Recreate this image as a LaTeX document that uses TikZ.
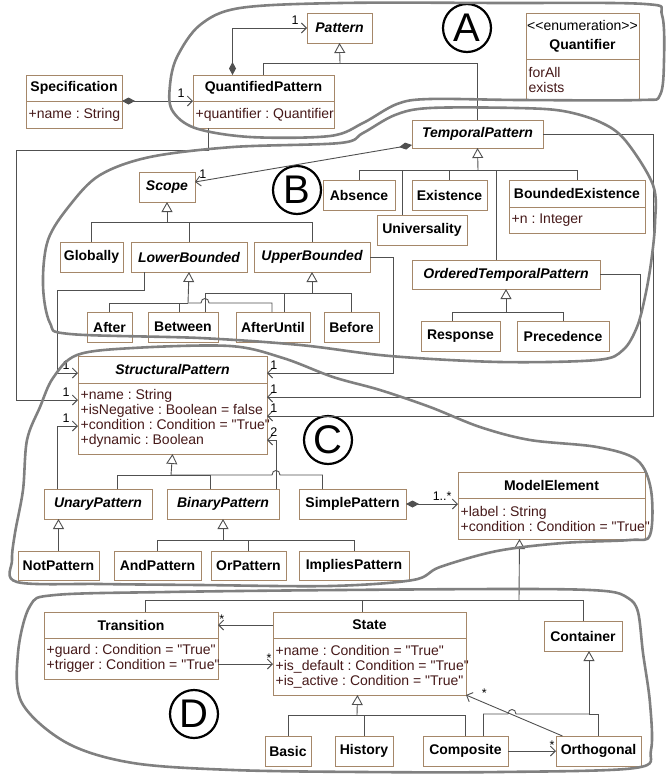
\documentclass[tikz,border=0pt]{standalone}
\usepackage{fontspec}
\newfontfamily\umlfamily{Liberation Sans}
\usepackage{tikz}
\usetikzlibrary{calc, positioning, arrows.meta}
\definecolor{boxc}{RGB}{165,135,105}
\definecolor{linec}{RGB}{80,80,80}
\definecolor{attrc}{RGB}{70,25,25}
\definecolor{blobc}{RGB}{128,128,128}
\newcommand{\umlfont}{\umlfamily\frenchspacing\fontsize{14}{15}\selectfont}
\tikzstyle{cls}=[draw=boxc, line width=0.8pt, fill=white, inner sep=0pt, outer sep=0pt, anchor=north west, font=\umlfont\bfseries]
\tikzstyle{acls}=[cls, font=\umlfont\bfseries\itshape]
\tikzstyle{attrbox}=[draw=boxc, line width=0.8pt, fill=white, inner sep=0pt, outer sep=0pt, anchor=north west]
\tikzstyle{attr}=[inner xsep=2.5pt, inner ysep=0pt, anchor=west, align=left, text=attrc, font=\umlfont]
\tikzstyle{conn}=[draw=linec, line width=0.9pt]
\tikzstyle{gen}=[conn, -{Triangle[open, length=10pt, width=11pt]}]
\tikzstyle{assoc}=[conn, -{Straight Barb[length=5pt, width=10pt]}]
\tikzstyle{compose}=[conn, {Diamond[length=13pt, width=7pt, fill=linec]}-{Straight Barb[length=5pt, width=10pt]}]
\tikzstyle{mult}=[inner sep=1pt, font=\umlfamily\fontsize{12.5}{14}\selectfont]
\tikzstyle{letter}=[circle, draw, line width=2.2pt, minimum size=48pt, inner sep=0pt, font=\umlfamily\fontsize{40}{40}\selectfont]
\tikzstyle{blob}=[draw=blobc, line width=2.6pt, line join=round]

\begin{document}
\begin{tikzpicture}[x=1pt, y=-1pt]
\useasboundingbox (0,0) rectangle (670,782);
% the ``A'' part: patterns and quantifiers
\node[acls, minimum width=65, minimum height=30] (pat) at (307,13) {Pattern};
\node[cls, minimum width=96, minimum height=26] (spec) at (26,75) {Specification};
\node[attrbox, minimum width=96, minimum height=27] (spec-a) at (spec.south west) {};
\node[attr] at (spec-a.west) {+name : String};
\node[cls, minimum width=141, minimum height=26] (qpat) at (193,75) {QuantifiedPattern};
\node[attrbox, minimum width=141, minimum height=27] (qpat-a) at (qpat.south west) {};
\node[attr] at (qpat-a.west) {+quantifier : Quantifier};
\node[cls, minimum width=113, minimum height=46, align=center] (quant) at (526,13) {{\mdseries <<enumeration>>}\\[4pt]Quantifier};
\node[attrbox, minimum width=113, minimum height=41] (quant-a) at (quant.south west) {};
\node[attr] at (quant-a.west) {forAll\\exists};
\node[acls, minimum width=131, minimum height=28] (tpat) at (412,120) {TemporalPattern};
\node[letter] (markA) at (467,28) {A};
% the ``B'' part: scopes and temporal patterns
\node[acls, minimum width=56, minimum height=30] (scope) at (139,172) {Scope};
\node[cls, minimum width=72, minimum height=30] (absence) at (323,180) {Absence};
\node[cls, minimum width=75, minimum height=30] (exist) at (412,180) {Existence};
\node[cls, minimum width=90, minimum height=30] (univ) at (377,215) {Universality};
\node[cls, minimum width=136, minimum height=27] (bexist) at (509,180) {BoundedExistence};
\node[attrbox, minimum width=136, minimum height=26] (bexist-a) at (bexist.south west) {};
\node[attr] at (bexist-a.west) {+n : Integer};
\node[acls, minimum width=188, minimum height=29] (otpat) at (412,260) {OrderedTemporalPattern};
\node[cls, minimum width=79, minimum height=30] (resp) at (421,321) {Response};
\node[cls, minimum width=92, minimum height=30] (prec) at (517,321) {Precedence};
\node[cls, minimum width=63, minimum height=30] (glob) at (60,242) {Globally};
\node[acls, minimum width=116, minimum height=30] (lowb) at (131,242) {LowerBounded};
\node[acls, minimum width=116, minimum height=30] (uppb) at (254,242) {UpperBounded};
\node[cls, minimum width=45, minimum height=30] (after) at (87,312) {After};
\node[cls, minimum width=70, minimum height=30] (betw) at (148,312) {Between};
\node[cls, minimum width=74, minimum height=30] (aftu) at (236,312) {AfterUntil};
\node[cls, minimum width=55, minimum height=30] (before) at (324,312) {Before};
\node[letter] (markB) at (297,190) {B};
% the ``C'' part: structural patterns
\node[acls, minimum width=189, minimum height=27] (spat) at (78,356) {StructuralPattern};
\node[attrbox, minimum width=189, minimum height=71] (spat-a) at (spat.south west) {};
\node[attr] at (spat-a.west) {+name : String\\+isNegative : Boolean = false\\+condition : Condition = "True"\\+dynamic : Boolean};
\node[acls, minimum width=108, minimum height=30] (unary) at (44,489) {UnaryPattern};
\node[acls, minimum width=112, minimum height=30] (binary) at (167,489) {BinaryPattern};
\node[cls, minimum width=107, minimum height=30] (simple) at (299,489) {SimplePattern};
\node[cls, minimum width=81, minimum height=29] (notp) at (18,551) {NotPattern};
\node[cls, minimum width=87, minimum height=29] (andp) at (114,551) {AndPattern};
\node[cls, minimum width=75, minimum height=29] (orp) at (211,551) {OrPattern};
\node[cls, minimum width=110, minimum height=29] (impp) at (299,551) {ImpliesPattern};
\node[cls, minimum width=187, minimum height=26] (melem) at (458,472) {ModelElement};
\node[attrbox, minimum width=187, minimum height=41] (melem-a) at (melem.south west) {};
\node[attr] at (melem-a.west) {+label : String\\+condition : Condition = "True"};
\node[letter] (markC) at (328,440) {C};
% the ``D'' part: states and transitions
\node[cls, minimum width=174, minimum height=26] (trans) at (44,612) {Transition};
\node[attrbox, minimum width=174, minimum height=41] (trans-a) at (trans.south west) {};
\node[attr] at (trans-a.west) {+guard : Condition = "True"\\+trigger : Condition = "True"};
\node[cls, minimum width=193, minimum height=26] (state) at (273,612) {State};
\node[attrbox, minimum width=193, minimum height=57] (state-a) at (state.south west) {};
\node[attr] at (state-a.west) {+name : Condition = "True"\\+is\_default : Condition = "True"\\+is\_active : Condition = "True"};
\node[cls, minimum width=78, minimum height=30] (cont) at (544,621) {Container};
\node[cls, minimum width=46, minimum height=30] (basic) at (265,736) {Basic};
\node[cls, minimum width=58, minimum height=30] (hist) at (335,736) {History};
\node[cls, minimum width=85, minimum height=30] (compo) at (423,736) {Composite};
\node[cls, minimum width=85, minimum height=30] (orth) at (556,736) {Orthogonal};
\node[letter] (markD) at (194,714) {D};
% the bars of the generalisations and the hops
\coordinate (patbar) at (340,63);
\coordinate (tpbar) at (478,170);
\coordinate (scbar) at (167,222);
\coordinate (lbbar) at (188,303);
\coordinate (ubbar) at (312,293);
\coordinate (otbar) at (506,312);
\coordinate (spbar) at (171,475);
\coordinate (bpbar) at (223,540);
\coordinate (mebar) at (519,600);
\coordinate (stbar) at (357,715);
\coordinate (ctbar) at (589,714);
\coordinate (hopA) at (205,303);
\coordinate (hopC) at (276,475);
\coordinate (hopD) at (512,714);
% the rails round the structural pattern
\coordinate (qprail) at (16,150);
\coordinate (lbrail) at (57,290);
\coordinate (ubrail) at (393,373);
\coordinate (otrail) at (640,397);
\coordinate (tprail) at (653,416);
% the edges of part A
\draw[compose] (spec.south east) -- (qpat.south west) node[mult, above left, xshift=-7pt, yshift=2pt] {1};
\draw[compose] ([xshift=-31pt]qpat.north) |- (pat.west) node[mult, above left, xshift=-7pt, yshift=2pt] {1};
\draw[gen] (patbar) -- (pat.south);
\draw[conn] (qpat.north) |- (patbar);
\draw[conn] (tpat.north) |- (patbar);
% the edges of part B
\draw[compose] ([yshift=-11pt]tpat.west) -- ([yshift=5pt]scope.east) node[mult, above right, xshift=3pt, yshift=2pt] {1};
\draw[gen] (tpbar) -- (tpat.south);
\draw[conn] (absence.north) |- (tpbar);
\draw[conn] ([xshift=-20pt]univ.north) |- (tpbar);
\draw[conn] (exist.north) |- (tpbar);
\draw[conn] ([xshift=-10pt]otpat.north) |- (tpbar);
\draw[conn] (bexist.north) |- (tpbar);
\draw[gen] (scbar) -- (scope.south);
\draw[conn] (glob.north) |- (scbar);
\draw[conn] (lowb.north) |- (scbar);
\draw[conn] (uppb.north) |- (scbar);
\draw[gen] (lbbar) -- (lowb.south);
\draw[conn] (after.north) |- (lbbar);
\draw[conn] ([xshift=-4pt]betw.north) |- (lbbar);
\draw[conn] ([xshift=-1pt]aftu.north) |- ([xshift=4pt]hopA) .. controls +(0,-6) and +(0,-6) .. ([xshift=-4pt]hopA) -- (lbbar);
\draw[gen] (ubbar) -- (uppb.south);
\draw[conn] ([xshift=22pt]betw.north) |- (ubbar);
\draw[conn] ([xshift=11pt]aftu.north) |- (ubbar);
\draw[conn] (before.north) |- (ubbar);
\draw[gen] (otbar) -- (otpat.south);
\draw[conn] ([xshift=-8pt]resp.north) |- (otbar);
\draw[conn] (prec.north) |- (otbar);
% the references to the structural pattern
\draw[assoc] ([xshift=-55pt]qpat-a.south) |- (qprail) |- (spat-a.west |- 0,400) node[mult, above left, xshift=-7pt, yshift=2pt] {1};
\draw[assoc] ([xshift=-45pt]lowb.south) |- (lbrail) |- (spat.west |- ubrail) node[mult, above left, xshift=-7pt, yshift=2pt] {1};
\draw[assoc] (uppb.east) -| (ubrail) -- (spat.east |- ubrail) node[mult, above right, xshift=2pt, yshift=2pt] {1};
\draw[assoc] (otpat.east) -| (otrail) -- (spat-a.east |- otrail) node[mult, above right, xshift=2pt, yshift=2pt] {1};
\draw[assoc] (tpat.east) -| (tprail) -- (spat-a.east |- tprail) node[mult, above right, xshift=2pt, yshift=2pt] {1};
\draw[assoc] ([xshift=-41pt]unary.north) |- (spat-a.west |- 0,426) node[mult, above left, xshift=-7pt, yshift=2pt] {1};
\draw[assoc] ([xshift=53pt]binary.north) |- (spat-a.east |- 0,440) node[mult, above right, xshift=2pt, yshift=2pt] {2};
% the edges of part C
\draw[gen] (spbar) -- (spat-a.south);
\draw[conn] ([xshift=19pt]unary.north) |- (spbar);
\draw[conn] ([xshift=-13pt]binary.north) |- (spbar);
\draw[conn] ([xshift=-30pt]simple.north) |- ([xshift=4pt]hopC) .. controls +(0,-6) and +(0,-6) .. ([xshift=-4pt]hopC) -- (spbar);
\draw[gen] (notp.north) -- (notp.north |- unary.south);
\draw[gen] (bpbar) -- (binary.south);
\draw[conn] (andp.north) |- (bpbar);
\draw[conn] (orp.north) |- (bpbar);
\draw[conn] (impp.north) |- (bpbar);
\draw[compose] (simple.east) -- (melem-a.west |- simple.east) node[mult, above left, xshift=-5pt, yshift=2pt] {1..*};
% the edges of part D
\draw[gen] (mebar) -- ([xshift=-32pt]melem-a.south);
\draw[conn] ([xshift=14pt]trans.north) |- (mebar);
\draw[conn] ([xshift=-7pt]state.north) |- (mebar);
\draw[conn] (cont.north) |- (mebar);
\draw[assoc] (state.west) -- (trans.east |- state.west) node[mult, above right] {*};
\draw[assoc] (trans-a.east |- 0,664) -- (state-a.west |- 0,664) node[mult, above left] {*};
\draw[gen] (stbar) -- ([xshift=-12pt]state-a.south);
\draw[conn] (basic.north) |- (stbar);
\draw[conn] (hist.north) |- (stbar);
\draw[conn] (compo.north) |- (stbar);
\draw[gen] (ctbar) -- ([xshift=6pt]cont.south);
\draw[conn] ([xshift=18pt]compo.north) |- ([xshift=-4pt]hopD) .. controls +(0,-6) and +(0,-6) .. ([xshift=4pt]hopD) -- (ctbar);
\draw[conn] (orth.north) |- (ctbar);
\draw[assoc] (compo.east) -- (orth.west) node[mult, above left] {*};
\draw[assoc] ([xshift=-36pt]orth.north) -- (state-a.south east) node[mult, pos=0.85, above right, yshift=2pt] {*};
% the hand drawn outlines of the parts
\draw[blob] plot[smooth cycle, tension=0.55] coordinates {(177,57) (200,25) (240,8) (340,3) (500,3) (645,4) (662,15) (664,60) (660,95) (640,100) (520,100) (430,99) (397,104) (363,123) (330,136) (250,137) (195,128) (172,110) (170,85)};
\draw[blob] plot[smooth cycle, tension=0.55] coordinates {(340,143) (233,147) (150,157) (100,175) (70,205) (48,240) (43,285) (50,323) (70,334) (200,338) (300,345) (390,356) (500,362) (597,360) (623,350) (637,327) (645,297) (651,263) (655,223) (653,185) (625,140) (600,122) (563,111) (517,108) (430,108) (395,115) (363,133)};
\draw[blob] plot[smooth cycle, tension=0.55] coordinates {(53,378) (77,355) (133,348) (230,346) (283,358) (333,377) (380,390) (430,407) (480,427) (530,440) (597,447) (637,460) (651,490) (650,535) (630,540) (563,543) (497,551) (440,567) (413,580) (330,586) (200,585) (100,584) (17,582) (12,560) (15,533) (23,490) (27,440) (40,407)};
\draw[blob] plot[smooth cycle, tension=0.55] coordinates {(30,606) (55,595) (167,592) (340,590) (530,589) (605,591) (628,598) (638,612) (643,653) (650,703) (651,750) (635,768) (500,772) (363,772) (233,770) (133,763) (67,743) (22,703) (18,653)};
\end{tikzpicture}
\end{document}
